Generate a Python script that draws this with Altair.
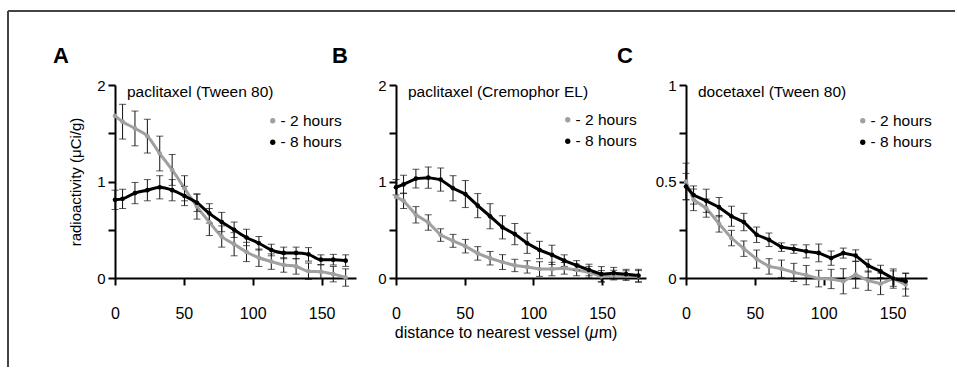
import altair as alt
import pandas as pd

FONT = "Liberation Sans"

# ---------------- data ----------------
x_a = [0, 5.5, 14.5, 23.5, 32.5, 41.5, 50.5, 59.5, 68.5, 77.5, 86.5, 95.5,
       104.5, 113.5, 122.5, 131.5, 140.5, 149.5, 158.5, 167.5]
gray_a = [1.68, 1.62, 1.55, 1.47, 1.29, 1.12, 0.93, 0.74, 0.58, 0.43, 0.35, 0.27,
          0.21, 0.17, 0.135, 0.12, 0.07, 0.065, 0.04, 0.005]
gray_a_err = [0, 0.18, 0.18, 0.175, 0.18, 0.16, 0.13, 0.13, 0.14, 0.11, 0.12, 0.10,
              0.09, 0.08, 0.075, 0.08, 0.085, 0.07, 0.08, 0.09]
black_a = [0.81, 0.82, 0.88, 0.91, 0.94, 0.91, 0.85, 0.78, 0.67, 0.58, 0.50, 0.42,
           0.36, 0.29, 0.26, 0.26, 0.245, 0.19, 0.19, 0.18]
black_a_err = [0.10, 0.10, 0.11, 0.11, 0.12, 0.11, 0.10, 0.09, 0.10, 0.10, 0.08, 0.085,
               0.07, 0.06, 0.06, 0.06, 0.07, 0.05, 0.055, 0.06]

x_b = [0, 5.5, 14.5, 23.5, 32.5, 41.5, 50.5, 59.5, 68.5, 77.5, 86.5, 95.5,
       104.5, 113.5, 122.5, 131.5, 140.5, 149.5, 158.5, 167.5, 176.5]
gray_b = [0.84, 0.80, 0.655, 0.575, 0.445, 0.385, 0.33, 0.255, 0.205, 0.165, 0.13, 0.115,
          0.093, 0.093, 0.10, 0.083, 0.06, 0.017, 0.03, 0.025, 0.017]
gray_b_err = [0, 0.08, 0.085, 0.08, 0.065, 0.067, 0.07, 0.07, 0.07, 0.077, 0.064, 0.064,
              0.076, 0.07, 0.06, 0.06, 0.06, 0.06, 0.05, 0.05, 0.06]
black_b = [0.94, 0.97, 1.03, 1.04, 1.02, 0.93, 0.87, 0.75, 0.64, 0.525, 0.455, 0.36,
           0.29, 0.24, 0.18, 0.13, 0.083, 0.04, 0.05, 0.04, 0.025]
black_b_err = [0.08, 0.095, 0.097, 0.11, 0.12, 0.13, 0.14, 0.125, 0.13, 0.12, 0.11, 0.105,
               0.09, 0.10, 0.06, 0.05, 0.06, 0.078, 0.06, 0.05, 0.065]

x_c = [0, 5.5, 14.7, 24, 33, 42, 51.3, 60.3, 69.3, 78.3, 87.3, 96.4,
       105.4, 114.2, 123.2, 132.3, 141.3, 150.5, 159.5]
gray_c = [0.50, 0.405, 0.362, 0.281, 0.207, 0.152, 0.098, 0.06, 0.048, 0.029, 0.015, -0.003,
          -0.005, -0.017, 0.017, -0.014, -0.03, -0.003, -0.034]
gray_c_err = [0.095, 0.056, 0.047, 0.043, 0.04, 0.04, 0.047, 0.04, 0.045, 0.047, 0.05, 0.043,
              0.05, 0.065, 0.07, 0.05, 0.056, 0.05, 0.06]
black_c = [0.474, 0.43, 0.40, 0.367, 0.32, 0.29, 0.224, 0.198, 0.16, 0.15, 0.138, 0.13,
           0.103, 0.129, 0.116, 0.064, 0.034, -0.003, -0.017]
black_c_err = [0.068, 0.047, 0.06, 0.05, 0.052, 0.045, 0.04, 0.035, 0.022, 0.022, 0.034, 0.046,
               0.037, 0.026, 0.03, 0.033, 0.032, 0.04, 0.04]

series_names = ["2 hours", "8 hours"]
series_colors = ["#a0a0a0", "#000000"]
x_ticks = [0, 50, 100, 150]
titles = ["paclitaxel (Tween 80)", "paclitaxel (Cremophor EL)", "docetaxel (Tween 80)"]
letters = ["A", "B", "C"]
y_title = "radioactivity (μCi/g)"
x_title_parts = ["distance to nearest vessel (", "μ", "m)"]


def long_df(xs, g, ge, b, be):
    rows = []
    for x, v, e in zip(xs, g, ge):
        rows.append({"x": x, "v": v, "e": e, "s": series_names[0]})
    for x, v, e in zip(xs, b, be):
        rows.append({"x": x, "v": v, "e": e, "s": series_names[1]})
    return pd.DataFrame(rows)


def text_layer(txt, x, y, size, weight="normal", style="normal", align="left"):
    return alt.Chart(pd.DataFrame({"t": [txt]})).mark_text(
        align=align, baseline="alphabetic", fontSize=size, fontWeight=weight,
        fontStyle=style, font=FONT, color="black"
    ).encode(x=alt.value(x), y=alt.value(y), text="t:N")


def panel(df, xdom, width, ydom, yticks, ylabel_expr, ytitle, title, letter,
          letter_x, legx, legy, interp, extra=()):
    xs = alt.Scale(domain=xdom, nice=False, zero=False)
    ys = alt.Scale(domain=ydom, nice=False, zero=False)
    xaxis = alt.Axis(values=x_ticks, title=None, labelFontSize=16, tickSize=7,
                     labelPadding=20, labelFlush=False, labelOverlap=False)
    if ytitle:
        yaxis = alt.Axis(values=yticks, labelExpr=ylabel_expr, format="~g", title=ytitle,
                         titleFontSize=15, titleFontWeight="normal", titleFont=FONT,
                         titlePadding=13, labelFontSize=15, tickSize=7, labelPadding=3,
                         labelFlush=False)
    else:
        yaxis = alt.Axis(values=yticks, labelExpr=ylabel_expr, format="~g", title=None,
                         labelFontSize=15, tickSize=7, labelPadding=3, labelFlush=False)
    cscale = alt.Scale(domain=series_names, range=series_colors)
    base = alt.Chart(df).encode(x=alt.X("x:Q", scale=xs, axis=xaxis))
    line = base.mark_line(strokeWidth=3, interpolate=interp).encode(
        y=alt.Y("v:Q", scale=ys, axis=yaxis),
        stroke=alt.Stroke("s:N", scale=cscale, legend=None))
    err = base.transform_filter("datum.e > 0").transform_calculate(
        lo="datum.v - datum.e", hi="datum.v + datum.e")
    bars = err.mark_rule(color="#111111", strokeWidth=1).encode(
        y=alt.Y("lo:Q", scale=ys, axis=yaxis), y2="hi:Q")
    cap_lo = err.mark_tick(orient="horizontal", size=7, thickness=1, color="#111111").encode(
        y=alt.Y("lo:Q", scale=ys, axis=yaxis))
    cap_hi = err.mark_tick(orient="horizontal", size=7, thickness=1, color="#111111").encode(
        y=alt.Y("hi:Q", scale=ys, axis=yaxis))
    pts = base.mark_circle(size=22, opacity=1).encode(
        y=alt.Y("v:Q", scale=ys, axis=yaxis),
        color=alt.Color("s:N", scale=cscale, legend=alt.Legend(
            orient="none", legendX=legx, legendY=legy, title=None,
            labelExpr="'- ' + datum.label", labelFontSize=15.5, labelFont=FONT,
            labelColor="black", symbolType="circle", symbolSize=28,
            symbolStrokeWidth=0, symbolOpacity=1, rowPadding=4.5, labelOffset=0,
            symbolOffset=4, padding=0)))
    ttl = text_layer(title, 12, 11.5, 15.5)
    let = text_layer(letter, letter_x, -22, 22, weight="bold")
    layers = [line, bars, cap_lo, cap_hi, pts, ttl, let] + list(extra)
    return alt.layer(*layers).resolve_scale(stroke="independent").properties(
        width=width, height=193)


df_a = long_df(x_a, gray_a, gray_a_err, black_a, black_a_err)
df_b = long_df(x_b, gray_b, gray_b_err, black_b, black_b_err)
df_c = long_df(x_c, gray_c, gray_c_err, black_c, black_c_err)

one = pd.DataFrame({"k": [0]})
frame_left = alt.Chart(one).mark_rule(color="#444444", strokeWidth=2).encode(
    x=alt.value(-107), y=alt.value(-74), y2=alt.value(282))
frame_top = alt.Chart(one).mark_rule(color="#444444", strokeWidth=2).encode(
    x=alt.value(-107), x2=alt.value(840), y=alt.value(-74))

xt1 = text_layer(x_title_parts[0], 193.5, 253, 16, align="right")
xt2 = text_layer(x_title_parts[1], 193.5, 253, 16, style="italic")
xt3 = text_layer(x_title_parts[2], 202.7, 253, 16)

yt_ab = [0, 0.5, 1, 1.5, 2]
yt_c = [0, 0.25, 0.5, 0.75, 1]

pa = panel(df_a, [0, 175], 241, [0, 2], yt_ab, "datum.value % 1 == 0 ? datum.label : ''",
           y_title, titles[0], letters[0], -62, 146, 28, "monotone",
           extra=(frame_left, frame_top))
pb = panel(df_b, [0, 182], 250, [0, 2], yt_ab, "datum.value % 1 == 0 ? datum.label : ''",
           None, titles[1], letters[1], -64, 160, 27, "linear",
           extra=(xt1, xt2, xt3))
pc = panel(df_c, [0, 175], 241, [0, 1], yt_c, "(datum.value * 2) % 1 == 0 ? datum.label : ''",
           None, titles[2], letters[2], -69, 165, 28, "linear")

chart = alt.hconcat(pa, pb, pc, spacing=40, bounds="flush").resolve_scale(
    x="independent", y="independent", color="independent", stroke="independent"
).resolve_legend(color="independent").properties(
    padding={"left": 7, "top": 10, "right": 0, "bottom": 0},
    background="white"
).configure_view(strokeWidth=0).configure_axis(
    domainColor="black", domainWidth=2, tickColor="black", tickWidth=2,
    labelFont=FONT, labelColor="black", titleColor="black", grid=False
)

chart.save("out.html", embed_options={"renderer": "svg", "actions": False})
